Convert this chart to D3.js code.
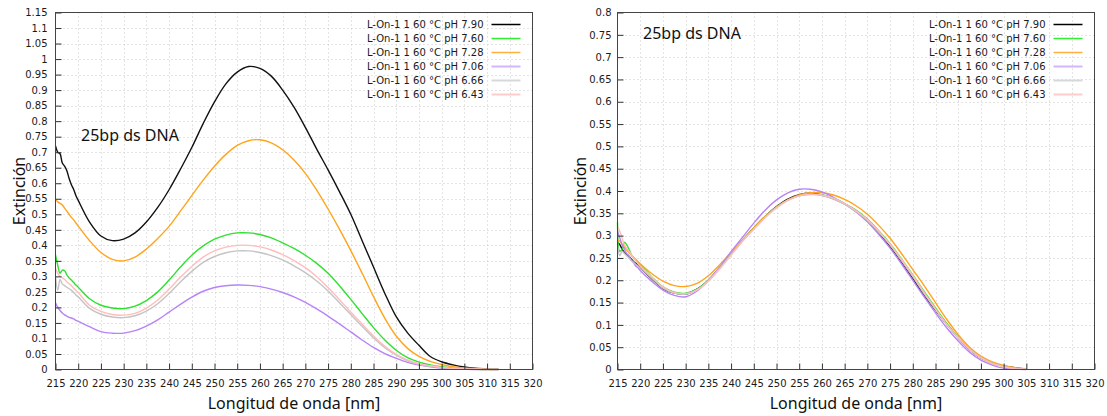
<!DOCTYPE html>
<html><head><meta charset="utf-8">
<script src="https://cdn.jsdelivr.net/npm/d3@7"></script>
<style>body{margin:0;background:#fff}svg{display:block}</style>
</head><body>
<svg id="c" width="1107" height="416"></svg>
<script>
// ---------- data ----------
const xTicks = [215,220,225,230,235,240,245,250,255,260,265,270,275,280,285,290,295,300,305,310,315,320];
const yTicksLeft = [0,0.05,0.1,0.15,0.2,0.25,0.3,0.35,0.4,0.45,0.5,0.55,0.6,0.65,0.7,0.75,0.8,0.85,0.9,0.95,1,1.05,1.1,1.15];
const yTicksRight = [0,0.05,0.1,0.15,0.2,0.25,0.3,0.35,0.4,0.45,0.5,0.55,0.6,0.65,0.7,0.75,0.8];
const seriesNames = ["L-On-1 1 60 °C pH 7.90","L-On-1 1 60 °C pH 7.60","L-On-1 1 60 °C pH 7.28","L-On-1 1 60 °C pH 7.06","L-On-1 1 60 °C pH 6.66","L-On-1 1 60 °C pH 6.43"];
const seriesColors = ["#111111","#2fe02f","#ffa41c","#b784f7","#c4c4c4","#ffbdbd"];
const legendColors = ["#000000","#33ee33","#ffb040","#d2b4ff","#d8d8d8","#ffcccc"];
const xLabel = "Longitud de onda [nm]";
const yLabel = "Extinción";
const annotation = "25bp ds DNA";

const wavelengthsLeft = [215,215.5,216,216.5,217,217.5,218,218.5,219,219.5,
  220,222.5,225,227.5,230,232.5,235,237.5,240,242.5,
  245,247.5,250,252.5,255,257.5,260,262.5,265,267.5,
  270,272.5,275,277.5,280,282.5,285,287.5,290,292.5,
  295,297.5,300,302.5,305,307.5,310,312.5];
const left790 = [0.72,0.70,0.695,0.665,0.655,0.64,0.615,0.595,0.58,0.56,
  0.545,0.475,0.43,0.415,0.42,0.44,0.475,0.522,0.579,0.645,
  0.715,0.792,0.862,0.92,0.958,0.976,0.97,0.945,0.90,0.845,
  0.78,0.71,0.643,0.573,0.50,0.415,0.33,0.245,0.17,0.118,
  0.078,0.042,0.025,0.015,0.008,0.004,0.002,0.001];
const left760 = [0.37,0.335,0.31,0.32,0.318,0.305,0.295,0.288,0.28,0.272,
  0.265,0.228,0.207,0.198,0.196,0.204,0.222,0.25,0.288,0.33,
  0.368,0.398,0.42,0.433,0.44,0.44,0.435,0.424,0.408,0.39,
  0.368,0.342,0.31,0.27,0.226,0.18,0.135,0.095,0.062,0.038,
  0.024,0.015,0.009,0.005,0.003,0.001,0,0];
const left728 = [0.548,0.54,0.535,0.53,0.52,0.51,0.50,0.49,0.482,0.472,
  0.462,0.415,0.377,0.355,0.35,0.362,0.388,0.422,0.461,0.51,
  0.56,0.61,0.655,0.693,0.722,0.737,0.74,0.73,0.708,0.675,
  0.632,0.578,0.517,0.452,0.383,0.31,0.235,0.165,0.108,0.068,
  0.042,0.026,0.016,0.009,0.005,0.003,0.001,0];
const left706 = [0.215,0.20,0.19,0.182,0.176,0.172,0.168,0.166,0.163,0.158,
  0.155,0.138,0.122,0.117,0.117,0.125,0.14,0.16,0.185,0.21,
  0.233,0.252,0.264,0.27,0.272,0.271,0.267,0.259,0.248,0.234,
  0.216,0.195,0.172,0.147,0.121,0.095,0.071,0.051,0.036,0.023,
  0.014,0.009,0.005,0.002,0.001,0,0,0];
const left666 = [0.30,0.255,0.29,0.275,0.27,0.265,0.26,0.255,0.248,0.24,
  0.234,0.197,0.178,0.169,0.167,0.173,0.188,0.212,0.245,0.282,
  0.316,0.345,0.364,0.376,0.382,0.382,0.377,0.367,0.353,0.334,
  0.312,0.285,0.253,0.215,0.177,0.139,0.102,0.07,0.046,0.028,
  0.017,0.01,0.006,0.003,0.002,0.001,0,0];
const left643 = [0.325,0.31,0.30,0.295,0.29,0.283,0.276,0.27,0.262,0.255,
  0.248,0.207,0.187,0.177,0.175,0.181,0.198,0.224,0.259,0.297,
  0.332,0.362,0.382,0.394,0.40,0.40,0.395,0.385,0.37,0.351,
  0.328,0.299,0.264,0.225,0.185,0.146,0.108,0.075,0.049,0.031,
  0.019,0.012,0.007,0.004,0.002,0.001,0,0];

const wavelengthsRight = [215,215.5,216,216.5,217,217.5,218,218.5,219,219.5,
  220,222.5,225,227.5,230,232.5,235,237.5,240,242.5,
  245,247.5,250,252.5,255,257.5,260,262.5,265,267.5,
  270,272.5,275,277.5,280,282.5,285,287.5,290,292.5,
  295,297.5,300,302.5,305];
const right790 = [0.285,0.28,0.27,0.262,0.258,0.254,0.248,0.242,0.238,0.233,
  0.228,0.204,0.181,0.171,0.169,0.18,0.20,0.228,0.259,0.289,
  0.317,0.343,0.365,0.382,0.392,0.395,0.391,0.383,0.371,0.355,
  0.333,0.305,0.276,0.241,0.204,0.166,0.133,0.101,0.071,0.045,
  0.026,0.014,0.008,0.004,0.001];
const right760 = [0.33,0.265,0.27,0.285,0.28,0.27,0.258,0.25,0.245,0.24,
  0.235,0.208,0.185,0.173,0.171,0.18,0.20,0.228,0.259,0.289,
  0.317,0.343,0.364,0.38,0.39,0.393,0.391,0.384,0.372,0.357,
  0.337,0.311,0.282,0.248,0.212,0.175,0.138,0.103,0.072,0.046,
  0.027,0.014,0.007,0.003,0.001];
const right728 = [0.29,0.288,0.28,0.275,0.268,0.262,0.257,0.252,0.247,0.242,
  0.237,0.215,0.198,0.188,0.186,0.193,0.21,0.235,0.262,0.29,
  0.317,0.343,0.364,0.38,0.391,0.396,0.396,0.391,0.381,0.367,
  0.348,0.323,0.294,0.26,0.224,0.188,0.15,0.112,0.078,0.05,
  0.03,0.017,0.009,0.004,0.002];
const right706 = [0.31,0.295,0.28,0.27,0.26,0.255,0.245,0.24,0.232,0.228,
  0.222,0.198,0.178,0.166,0.163,0.176,0.20,0.23,0.264,0.296,
  0.328,0.357,0.38,0.396,0.404,0.404,0.398,0.386,0.371,0.353,
  0.331,0.303,0.272,0.237,0.20,0.163,0.127,0.093,0.064,0.039,
  0.021,0.01,0.003,0.001,0];
const right666 = [0.28,0.255,0.265,0.26,0.255,0.25,0.245,0.24,0.236,0.232,
  0.228,0.205,0.182,0.171,0.169,0.179,0.199,0.227,0.258,0.288,
  0.315,0.341,0.363,0.379,0.389,0.392,0.39,0.382,0.37,0.354,
  0.334,0.308,0.279,0.244,0.208,0.17,0.134,0.10,0.071,0.046,
  0.027,0.014,0.007,0.003,0.001];
const right643 = [0.32,0.31,0.295,0.28,0.272,0.265,0.258,0.25,0.244,0.238,
  0.232,0.208,0.185,0.172,0.17,0.178,0.198,0.225,0.256,0.287,
  0.314,0.34,0.362,0.379,0.389,0.393,0.391,0.384,0.372,0.356,
  0.336,0.31,0.281,0.247,0.211,0.173,0.136,0.101,0.071,0.045,
  0.026,0.013,0.006,0.002,0];

// ---------- drawing ----------
const svg = d3.select("#c");
const tickFont = "'DejaVu Sans', sans-serif";
const titleFont = "'Noto Sans', 'Open Sans', sans-serif";

function drawPanel(cfg) {
  const x = d3.scaleLinear().domain([215, 320]).range([cfg.left, cfg.right]);
  const y = d3.scaleLinear().domain([0, cfg.yMax]).range([cfg.bottom, cfg.top]);
  const g = svg.append("g");

  // grid
  g.append("g").selectAll("line").data(xTicks.slice(1, -1)).join("line")
    .attr("x1", d => Math.round(x(d)) + 0.5).attr("x2", d => Math.round(x(d)) + 0.5)
    .attr("y1", cfg.top).attr("y2", cfg.bottom)
    .attr("stroke", "#c8c8c8").attr("stroke-width", 1).attr("stroke-dasharray", "1,3");
  g.append("g").selectAll("line").data(cfg.yTicks.slice(1, -1)).join("line")
    .attr("y1", d => Math.round(y(d)) + 0.5).attr("y2", d => Math.round(y(d)) + 0.5)
    .attr("x1", cfg.left).attr("x2", cfg.right)
    .attr("stroke", "#c8c8c8").attr("stroke-width", 1).attr("stroke-dasharray", "1,3");

  // lines
  const line = d3.line().x(d => x(d[0])).y(d => y(d[1])).curve(d3.curveCatmullRom.alpha(0.5));
  cfg.series.forEach((vals, i) => {
    const pts = cfg.wl.map((w, k) => [w, vals[k]]);
    g.append("path").datum(pts).attr("d", line)
      .attr("fill", "none").attr("stroke", seriesColors[i]).attr("stroke-width", 1.4)
      .attr("stroke-linejoin", "round");
  });

  // axes ticks (inward)
  const xAxis = d3.axisBottom(x).tickValues(xTicks).tickSize(-6).tickFormat(d => d).tickPadding(12);
  const ax = g.append("g").attr("transform", `translate(0,${cfg.bottom})`).call(xAxis);
  ax.select(".domain").remove();
  ax.selectAll("line").attr("stroke", "#333");
  ax.selectAll("text").attr("font-family", tickFont).attr("font-size", 10).attr("fill", "#1a1a1a")
    .attr("dy", null).attr("y", 17.5);

  const yAxis = d3.axisLeft(y).tickValues(cfg.yTicks).tickSize(-6).tickPadding(12).tickFormat(d => d3.format("~g")(d));
  const ay = g.append("g").attr("transform", `translate(${cfg.left},0)`).call(yAxis);
  ay.select(".domain").remove();
  ay.selectAll("line").attr("stroke", "#333");
  ay.selectAll("text").attr("font-family", tickFont).attr("font-size", 10).attr("fill", "#1a1a1a")
    .attr("x", -cfg.labelGap);

  // frame
  g.append("rect").attr("x", cfg.left).attr("y", cfg.top)
    .attr("width", cfg.right - cfg.left).attr("height", cfg.bottom - cfg.top)
    .attr("fill", "none").attr("stroke", "#444").attr("stroke-width", 1);

  // legend
  const lg = g.append("g");
  seriesNames.forEach((n, i) => {
    const ly = cfg.top + 11.5 + i * 14;
    lg.append("text").attr("x", cfg.right - 49).attr("y", ly).attr("dy", "0.35em")
      .attr("text-anchor", "end").attr("font-family", tickFont).attr("font-size", 10)
      .attr("fill", "#1a1a1a").text(n);
    lg.append("line").attr("x1", cfg.right - 41).attr("x2", cfg.right - 12)
      .attr("y1", Math.round(ly) + 0.5).attr("y2", Math.round(ly) + 0.5)
      .attr("stroke", legendColors[i]).attr("stroke-width", i >= 3 ? 2 : 1.5);
  });

  // titles
  g.append("text").attr("x", (cfg.left + cfg.right) / 2).attr("y", 409)
    .attr("text-anchor", "middle").attr("font-family", titleFont).attr("font-size", 16)
    .attr("fill", "#111").text(xLabel);
  g.append("text").attr("transform", `translate(${cfg.yTitleX},${(cfg.top + cfg.bottom) / 2}) rotate(-90)`)
    .attr("text-anchor", "middle").attr("font-family", titleFont).attr("font-size", 16)
    .attr("fill", "#111").text(yLabel);
  g.append("text").attr("x", cfg.annX).attr("y", cfg.annY)
    .attr("font-family", titleFont).attr("font-size", 16).attr("fill", "#111").text(annotation);
}

drawPanel({left: 55.5, right: 532.5, top: 12.5, bottom: 369.5, yMax: 1.15, yTicks: yTicksLeft,
  wl: wavelengthsLeft, series: [left790, left760, left728, left706, left666, left643],
  labelGap: 8, yTitleX: 25, annX: 81, annY: 141});
drawPanel({left: 617.5, right: 1094.5, top: 12.5, bottom: 369.5, yMax: 0.8, yTicks: yTicksRight,
  wl: wavelengthsRight, series: [right790, right760, right728, right706, right666, right643],
  labelGap: 6, yTitleX: 586, annX: 643, annY: 39});
</script>
</body></html>
